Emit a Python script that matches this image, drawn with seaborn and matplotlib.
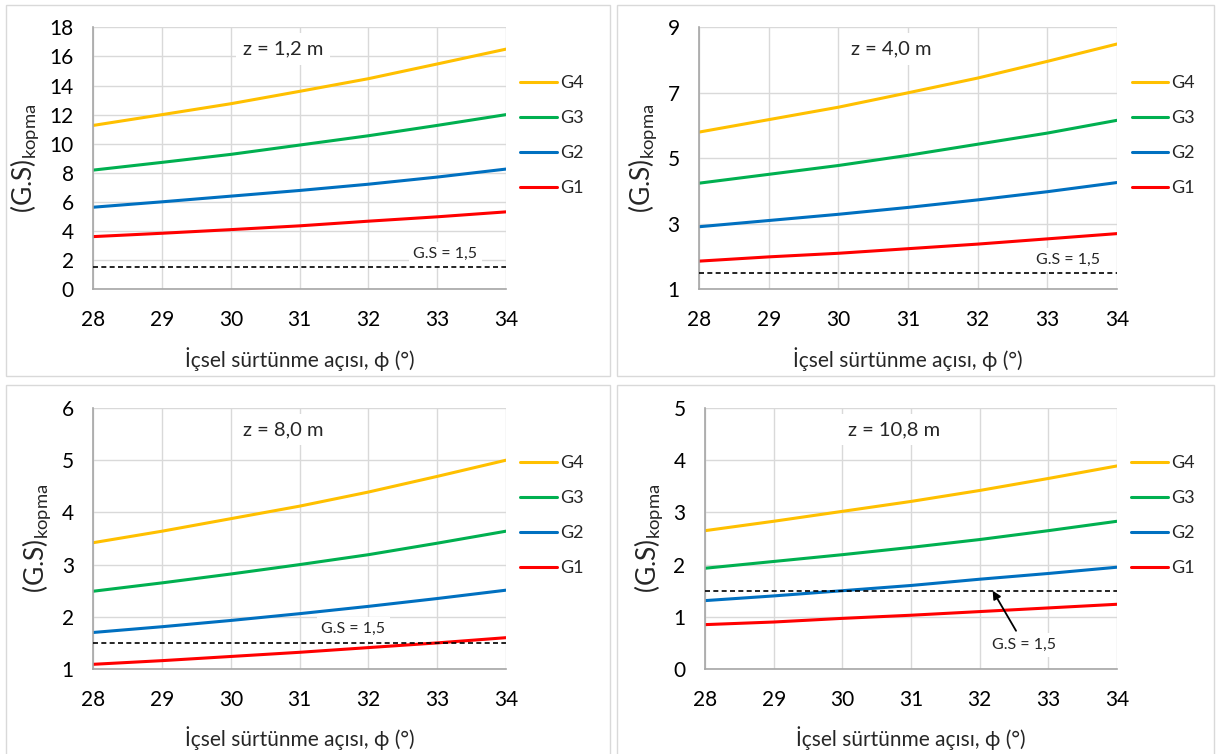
import pandas as pd
import matplotlib.pyplot as plt
from matplotlib.patches import Rectangle
import seaborn as sns

# ------------------------- Data -------------------------
phi = [28, 29, 30, 31, 32, 33, 34]
groups = ["G4", "G3", "G2", "G1"]
colors = {"G4": "#FFC000", "G3": "#00B050", "G2": "#0070C0", "G1": "#FF0000"}
gs_limit = 1.5

# z = 1,2 m
z12_g4 = [11.26, 12.0, 12.75, 13.6, 14.47, 15.48, 16.5]
z12_g3 = [8.19, 8.72, 9.27, 9.91, 10.55, 11.26, 12.0]
z12_g2 = [5.64, 6.01, 6.4, 6.79, 7.22, 7.71, 8.26]
z12_g1 = [3.62, 3.85, 4.1, 4.36, 4.68, 4.98, 5.32]

# z = 4,0 m
z40_g4 = [5.8, 6.18, 6.56, 7.0, 7.45, 7.96, 8.49]
z40_g3 = [4.24, 4.51, 4.78, 5.09, 5.43, 5.77, 6.16]
z40_g2 = [2.91, 3.10, 3.29, 3.5, 3.73, 3.98, 4.26]
z40_g1 = [1.86, 1.99, 2.1, 2.24, 2.38, 2.54, 2.70]

# z = 8,0 m
z80_g4 = [3.42, 3.64, 3.88, 4.12, 4.39, 4.69, 5.0]
z80_g3 = [2.49, 2.65, 2.82, 3.0, 3.19, 3.41, 3.64]
z80_g2 = [1.70, 1.81, 1.93, 2.06, 2.20, 2.35, 2.51]
z80_g1 = [1.09, 1.16, 1.24, 1.32, 1.41, 1.50, 1.60]

# z = 10,8 m
z108_g4 = [2.65, 2.83, 3.02, 3.21, 3.42, 3.65, 3.89]
z108_g3 = [1.93, 2.06, 2.19, 2.33, 2.48, 2.65, 2.83]
z108_g2 = [1.31, 1.40, 1.50, 1.60, 1.72, 1.83, 1.95]
z108_g1 = [0.85, 0.90, 0.97, 1.03, 1.10, 1.17, 1.24]

panels = [
    {"title": "z = 1,2 m", "series": [z12_g4, z12_g3, z12_g2, z12_g1],
     "yticks": list(range(0, 19, 2)), "gs_xy": (0.853, 0.135)},
    {"title": "z = 4,0 m", "series": [z40_g4, z40_g3, z40_g2, z40_g1],
     "yticks": [1, 3, 5, 7, 9], "gs_xy": (0.883, 0.112)},
    {"title": "z = 8,0 m", "series": [z80_g4, z80_g3, z80_g2, z80_g1],
     "yticks": [1, 2, 3, 4, 5, 6], "gs_xy": (0.63, 0.153)},
    {"title": "z = 10,8 m", "series": [z108_g4, z108_g3, z108_g2, z108_g1],
     "yticks": [0, 1, 2, 3, 4, 5], "gs_xy": None},
]

# ------------------------- Style -------------------------
sns.set_style("whitegrid")
plt.rcParams["font.family"] = ["Lato", "DejaVu Sans"]
plt.rcParams["mathtext.fontset"] = "custom"
plt.rcParams["mathtext.rm"] = "Lato"

W, H = 1219, 754
fig = plt.figure(figsize=(W / 100, H / 100), dpi=100)

# panel frames (pixels: x0, y0, x1, y1)
frames = [(6, 5, 610, 376), (617, 5, 1214, 376), (6, 385, 610, 760), (617, 385, 1214, 760)]
# axes boxes (pixels: left, top, right, bottom)
boxes = [(93.3, 27.3, 506, 289.3), (699, 27.3, 1117, 289.3),
         (93.3, 408, 506, 669), (705, 408, 1117, 669)]

for fr in frames:
    x0, y0, x1, y1 = fr
    fig.add_artist(Rectangle((x0 / W, 1 - y1 / H), (x1 - x0) / W, (y1 - y0) / H,
                             transform=fig.transFigure, fill=False,
                             edgecolor="#D9D9D9", linewidth=1.0))

for p, box in zip(panels, boxes):
    l, t, r, b = box
    ax = fig.add_axes([l / W, 1 - b / H, (r - l) / W, (b - t) / H])

    rows = []
    for g, vals in zip(groups, p["series"]):
        for x, v in zip(phi, vals):
            rows.append((x, v, g))
    df = pd.DataFrame(rows, columns=["phi", "gs", "grup"])

    sns.lineplot(data=df, x="phi", y="gs", hue="grup", hue_order=groups,
                 palette=colors, linewidth=2.2, ax=ax)
    ax.axhline(gs_limit, color="black", linestyle=(0, (3, 2)), linewidth=1.2, zorder=3)

    ax.set_xlim(28, 34)
    ax.set_ylim(p["yticks"][0], p["yticks"][-1])
    ax.set_xticks(phi)
    ax.set_yticks(p["yticks"])
    ax.tick_params(axis="x", length=0, pad=15, labelsize=15, colors="black")
    ax.tick_params(axis="y", length=0, pad=14, labelsize=15, colors="black")
    ax.grid(True, color="#D9D9D9", linewidth=1.0)
    for s in ["top", "right"]:
        ax.spines[s].set_visible(False)
    for s in ["left", "bottom"]:
        ax.spines[s].set_color("#A6A6A6")
        ax.spines[s].set_linewidth(1.2)

    ax.set_xlabel("İçsel sürtünme açısı, ϕ (°)", fontsize=15, labelpad=12)
    ax.set_ylabel(r"(G.S)$_{\mathrm{kopma}}$", fontsize=19, labelpad=6)

    ax.text(0.46, 0.917, p["title"], transform=ax.transAxes, fontsize=14.5,
            ha="center", va="center", zorder=4,
            bbox=dict(boxstyle="square,pad=0.35", facecolor="white", edgecolor="none"))

    if p["gs_xy"] is not None:
        ax.text(p["gs_xy"][0], p["gs_xy"][1], "G.S = 1,5", transform=ax.transAxes,
                fontsize=11.5, ha="center", va="center", zorder=4,
                bbox=dict(boxstyle="square,pad=0.3", facecolor="white", edgecolor="none"))
    else:
        ax.annotate("G.S = 1,5", xy=(32.19, gs_limit), xytext=(32.65, 0.46),
                    fontsize=11.5, ha="center", va="center", zorder=4,
                    bbox=dict(boxstyle="square,pad=0.3", facecolor="white", edgecolor="none"),
                    arrowprops=dict(arrowstyle="-|>", color="black", lw=1.3,
                                    shrinkA=2, shrinkB=0, mutation_scale=12))

    handles, labels = ax.get_legend_handles_labels()
    ax.legend(handles, labels, loc="center left", bbox_to_anchor=(1.035, 0.587),
              frameon=False, fontsize=13, handlelength=2.0, handletextpad=0.2,
              labelspacing=1.05, borderaxespad=0, borderpad=0)

fig.savefig("out.png", dpi=100)
